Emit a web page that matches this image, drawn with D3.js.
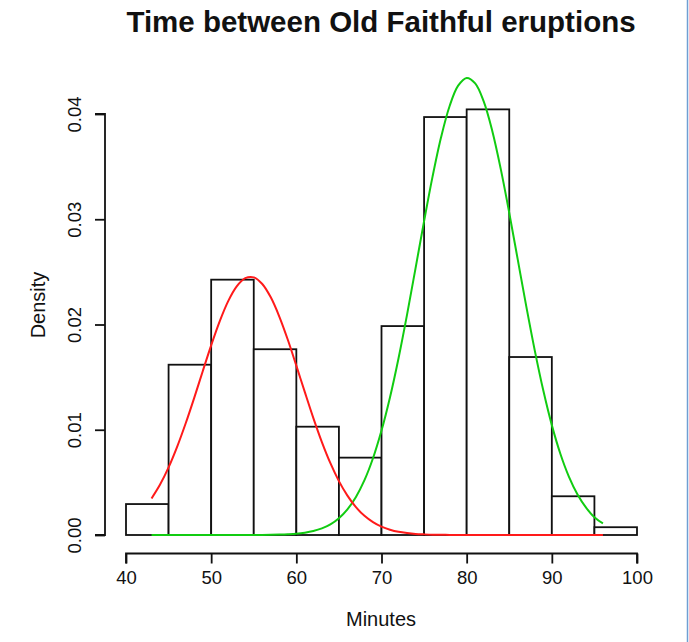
<!DOCTYPE html>
<html>
<head>
<meta charset="utf-8">
<script src="https://cdn.jsdelivr.net/npm/d3@7"></script>
<style>
  body { margin: 0; background: #fff; }
  svg { display: block; font-family: 'Liberation Sans', Arial, sans-serif; }
</style>
</head>
<body>
<div id="chart"></div>
<script>
'use strict'

// histogram of waiting times, 5 minute bins
const binStarts = [40, 45, 50, 55, 60, 65, 70, 75, 80, 85, 90, 95]
const binDensity = [0.00294, 0.01618, 0.02426, 0.01765, 0.01029, 0.00735,
  0.01985, 0.03971, 0.04044, 0.01691, 0.00368, 0.00074]

// fitted mixture components
const curveMinutes = [43, 44, 45, 46, 47, 48, 49, 50, 51, 52, 53, 54, 55, 56, 57, 58, 59,
  60, 61, 62, 63, 64, 65, 66, 67, 68, 69, 70, 71, 72, 73, 74, 75, 76, 77, 78, 79,
  80, 81, 82, 83, 84, 85, 86, 87, 88, 89, 90, 91, 92, 93, 94, 95, 96]
const redDensity = [0.00347, 0.00479, 0.00642, 0.00837, 0.01059, 0.01301, 0.01554, 0.01802,
  0.02030, 0.02222, 0.02362, 0.02440, 0.02448, 0.02385, 0.02258, 0.02076, 0.01855,
  0.01609, 0.01357, 0.01111, 0.00883, 0.00682, 0.00512, 0.00374, 0.00264, 0.00182,
  0.00122, 0.00079, 0.00050, 0.00030, 0.00018, 0.00010, 0.00006, 0.00003, 0.00002,
  0.00001, 0, 0, 0, 0, 0, 0, 0, 0, 0, 0, 0, 0, 0, 0, 0, 0, 0, 0]
const greenDensity = [0, 0, 0, 0, 0, 0, 0, 0, 0, 0, 0, 0, 0, 0.00001, 0.00002, 0.00004,
  0.00007, 0.00012, 0.00022, 0.00038, 0.00063, 0.00101, 0.00160, 0.00244, 0.00362,
  0.00521, 0.00729, 0.00992, 0.01309, 0.01680, 0.02094, 0.02536, 0.02982, 0.03407,
  0.03781, 0.04076, 0.04269, 0.04343, 0.04291, 0.04119, 0.03841, 0.03479, 0.03061,
  0.02616, 0.02172, 0.01752, 0.01372, 0.01044, 0.00772, 0.00555, 0.00387, 0.00262,
  0.00168, 0.00110]

const xTicks = [40, 50, 60, 70, 80, 90, 100]
const yTicks = [0, 0.01, 0.02, 0.03, 0.04]

const width = 689
const height = 642
const binWidth = 5

const x = d3.scaleLinear().domain([40, 100]).range([126, 637])
const y = d3.scaleLinear().domain([0, 0.04]).range([535, 114])

const svg = d3.select('#chart').append('svg')
  .attr('width', width)
  .attr('height', height)

// thin window edge on the right
svg.append('line')
  .attr('x1', 687.5).attr('x2', 687.5)
  .attr('y1', 0).attr('y2', height)
  .attr('stroke', '#6f9fd3')
  .attr('stroke-width', 1.5)

svg.append('text')
  .attr('x', 381)
  .attr('y', 32)
  .attr('text-anchor', 'middle')
  .attr('font-size', 29.5)
  .attr('font-weight', 'bold')
  .attr('fill', '#111')
  .text('Time between Old Faithful eruptions')

// bars
svg.append('g')
  .selectAll('rect')
  .data(binStarts)
  .enter()
  .append('rect')
  .attr('x', d => x(d))
  .attr('y', (d, i) => y(binDensity[i]))
  .attr('width', d => x(d + binWidth) - x(d))
  .attr('height', (d, i) => y(0) - y(binDensity[i]))
  .attr('fill', '#fff')
  .attr('stroke', '#111')
  .attr('stroke-width', 1.8)

// x axis
const xAxis = svg.append('g')
  .attr('transform', 'translate(0,553.5)')
  .call(d3.axisBottom(x).tickValues(xTicks).tickSize(10).tickPadding(7).tickFormat(d3.format('d')))
xAxis.select('.domain').attr('d', 'M' + x(40) + ',10V0H' + x(100) + 'V10')

// y axis
const yAxis = svg.append('g')
  .attr('transform', 'translate(105,0)')
  .call(d3.axisLeft(y).tickValues(yTicks).tickSize(10).tickFormat(d3.format('.2f')))
yAxis.select('.domain').attr('d', 'M-10,' + y(0.04) + 'H0V' + y(0) + 'H-10')
yAxis.selectAll('.tick text')
  .attr('transform', 'rotate(-90)')
  .attr('x', 0)
  .attr('y', -24)
  .attr('dy', 0)
  .attr('text-anchor', 'middle')

svg.selectAll('.domain, .tick line')
  .attr('stroke', '#111')
  .attr('stroke-width', 1.8)
svg.selectAll('.tick text')
  .attr('font-size', 18.5)
  .attr('font-family', "'Liberation Sans', Arial, sans-serif")
  .attr('fill', '#111')

svg.append('text')
  .attr('x', 381)
  .attr('y', 626)
  .attr('text-anchor', 'middle')
  .attr('font-size', 20)
  .attr('fill', '#111')
  .text('Minutes')

svg.append('text')
  .attr('transform', 'translate(45,305) rotate(-90)')
  .attr('text-anchor', 'middle')
  .attr('font-size', 20)
  .attr('fill', '#111')
  .text('Density')

// fitted curves
const line = d3.line()
  .x(d => x(d[0]))
  .y(d => y(d[1]))
  .curve(d3.curveCatmullRom)

svg.append('path')
  .datum(curveMinutes.map((m, i) => [m, greenDensity[i]]))
  .attr('d', line)
  .attr('fill', 'none')
  .attr('stroke', '#11cc11')
  .attr('stroke-width', 2)

svg.append('path')
  .datum(curveMinutes.map((m, i) => [m, redDensity[i]]))
  .attr('d', line)
  .attr('fill', 'none')
  .attr('stroke', '#ff1a1a')
  .attr('stroke-width', 2)
</script>
</body>
</html>
